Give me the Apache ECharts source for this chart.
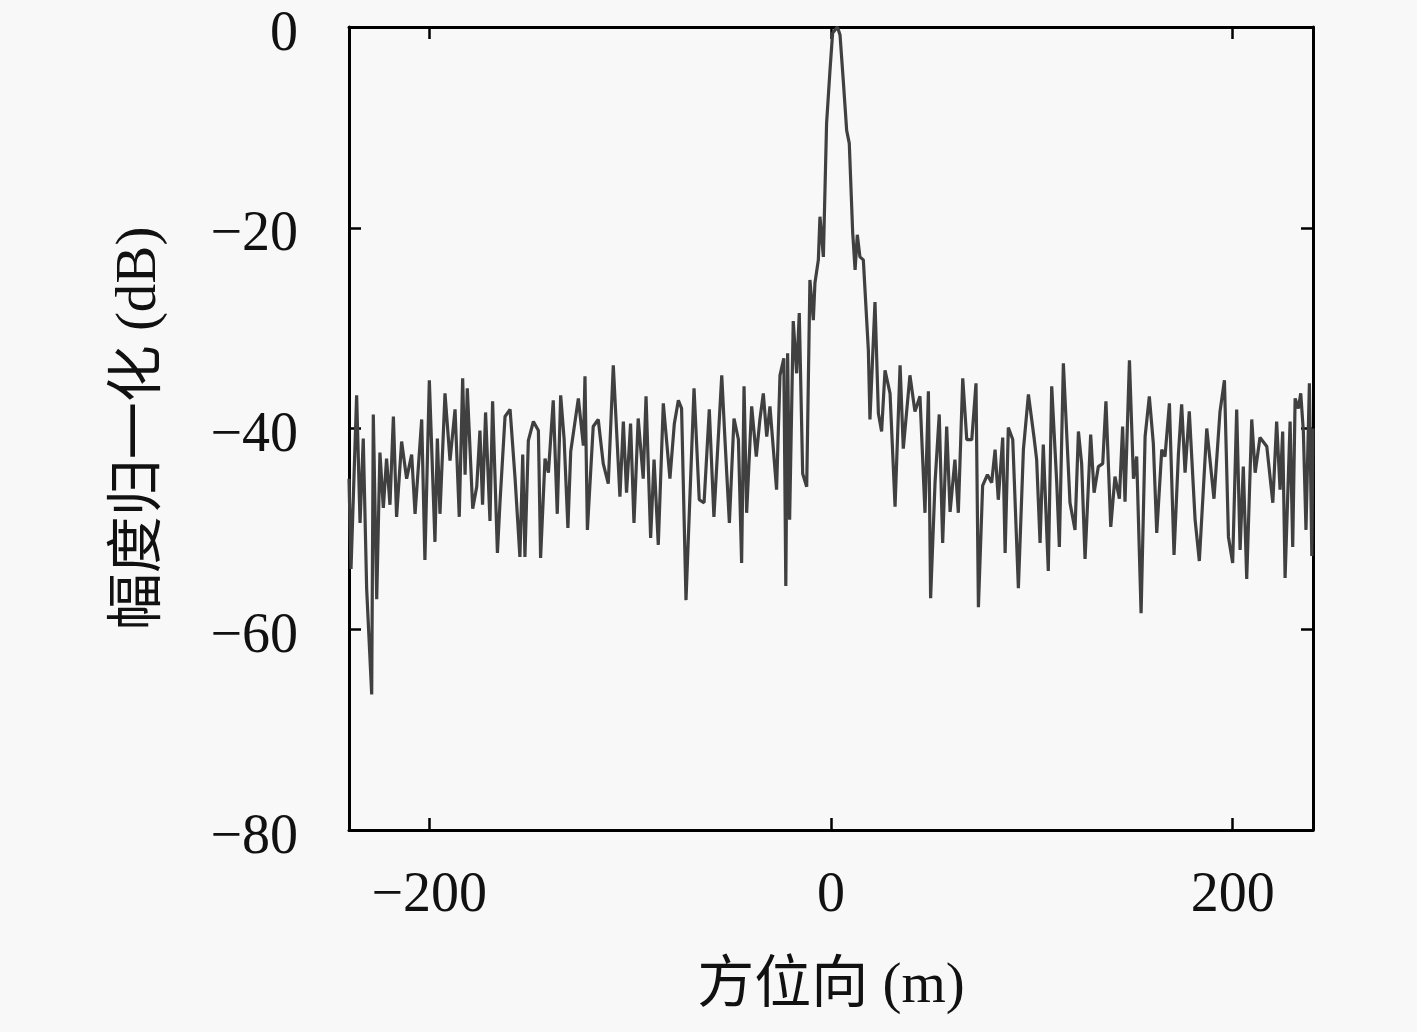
<!DOCTYPE html>
<html>
<head>
<meta charset="utf-8">
<script src="https://cdn.jsdelivr.net/npm/echarts@6/dist/echarts.min.js"></script>
<style>
html,body{margin:0;padding:0;background:#f8f8f8;}
#c{width:1417px;height:1032px;}
</style>
</head>
<body>
<div id="c"></div>
<script>
// Azimuth position (m)
const azimuth = [
-240,-239,-236.2,-234.5,-232.9,-231.2,-228.7,-227.9,-226.2,-224.6,-222.9,-221.3,-219.6,-217.9,-216.3,-213.8,-211.3,-208.8,-207.1,-203.8,
-202.2,-200,-197.2,-196,-194.7,-192.2,-189.7,-187.2,-185.1,-183.4,-182.2,-181.1,-178.4,-176.4,-174.8,-173.5,-172,-169.8,-168.5,-166.1,
-164.8,-162.3,-159.8,-157.3,-154.9,-153.5,-152.4,-150.7,-148.2,-145.7,-144.6,-142.4,-140.7,-138.3,-136.3,-134.6,-132.9,-131,-129.6,-125.8,
-123.3,-122.5,-121.3,-118.4,-115.9,-113.4,-110.9,-108.4,-105.1,-103.4,-101.8,-99.8,-98.1,-96,-93.5,-92.1,-89.8,-88.1,-86,-83.5,
-80.2,-78,-76,-74.4,-72.2,-68.2,-65.6,-63.2,-60.6,-58.3,-54.4,-52.8,-50.6,-48.3,-46.1,-44.5,-43.3,-42,-39.5,-37.2,
-35.4,-33.7,-32,-30.4,-27.1,-25.4,-23.5,-22.5,-21.6,-20.6,-18.8,-17.1,-15.8,-14.1,-12.1,-10.5,-8.8,-8,-6.3,-5.5,
-3.8,-2.2,-0.5,0.8,2,3.2,4.5,6.1,7.8,9.1,10.8,12,13.1,14.4,16.1,18.6,19.4,21.9,23.6,25.2,
26.9,29.4,31.9,34.4,36,39.3,41.8,44.3,46.8,48.5,49.6,51.8,53.9,55.6,57.6,59.3,61.7,63.4,65.6,67.6,
70.1,72.2,73.4,75.5,77.9,80,81.7,83.3,85.5,86.7,88.3,90.5,93.3,95.8,98.3,101.1,102.4,104.1,105.7,108.2,
109.9,112.4,113.7,115.7,119,121.5,123.2,124.8,126.5,129.3,131,133.1,135.3,136.9,139.3,141.4,143.6,145.2,146.4,148.6,
150.6,152.2,154.4,156.4,158.5,160.5,162.2,164.7,166.3,168.5,170.8,173,174.6,176.3,178.4,181.3,183.4,187.1,190.7,193.7,
195.9,197.9,200,202,203.7,205.3,207,209.5,211.2,213.6,217,220,221.9,223.6,224.9,226.1,228.6,229.9,231.1,232.7,
233.9,235.2,236.5,238.2,239.4,240
];
// Normalized amplitude (dB)
const amplitude = [
-45,-54,-36.7,-49.4,-41,-56,-66.5,-38.6,-57,-42.4,-47.9,-43,-47.6,-38.8,-48.8,-41.3,-45,-42.6,-48.5,-39.1,
-53.1,-35.2,-51.3,-41,-48.5,-36.5,-43.2,-38.1,-48.8,-35,-44.6,-36,-48,-45.8,-40.2,-47.6,-38.4,-49.2,-37.3,-52.4,
-47.3,-38.8,-38.1,-45,-52.8,-42.6,-52.8,-41.2,-39.3,-40.2,-52.9,-43,-44.4,-37.2,-48.5,-36.7,-41,-49.9,-42.3,-37,
-41.7,-34.8,-50.1,-39.8,-39.1,-43.5,-45.5,-33.7,-46.8,-39.3,-46.4,-39.5,-49.4,-39,-45,-36.8,-50.9,-43.1,-51.6,-37.5,
-45,-39.5,-37.2,-38,-57.1,-36,-47.1,-47.4,-38.1,-48.8,-34.7,-41.1,-49.4,-39,-41.1,-53.4,-35.8,-48.4,-37.8,-42.8,
-39.1,-36.5,-40.8,-37.8,-46.1,-34.7,-33,-55.7,-32.5,-49.1,-29.3,-34.5,-28.5,-44.5,-45.8,-25.2,-29.2,-25.5,-23.2,-18.9,
-22.9,-9.6,-4.3,-0.6,-0.3,0,-0.8,-5.3,-10.3,-11.6,-20.5,-24.2,-20.7,-22.9,-23.2,-32.2,-39.1,-27.4,-38.5,-40.3,
-34.2,-36.5,-47.8,-33.7,-42,-34.7,-38.3,-36.8,-48.4,-36.3,-56.9,-45.4,-38.6,-51.4,-39.8,-48.3,-43.1,-48.4,-35,-41.1,
-41.1,-35.5,-57.8,-45.7,-44.6,-45.4,-42.1,-47.1,-40.9,-52.4,-39.9,-41.1,-55.9,-42.1,-36.6,-40.9,-43.1,-51.4,-41.6,-54.2,
-35.8,-45.4,-51.8,-33.5,-47.4,-50.1,-40.3,-43.5,-53,-40.6,-46.4,-43.8,-43.5,-37.3,-49.8,-44.8,-47,-39.8,-47.3,-33.2,
-45,-42.8,-58.4,-40.8,-36.8,-41.5,-50.4,-42.1,-42.8,-37.5,-52.6,-42.5,-37.6,-44.4,-38.3,-49.1,-53.2,-40,-47,-38.3,
-35.2,-50.8,-53.4,-38.1,-52.1,-43.8,-55,-39.1,-44.4,-40.9,-41.8,-47.4,-39.3,-46.1,-40.3,-54.9,-39.3,-51.8,-37,-38,
-36.5,-40.3,-50.1,-35.5,-52.7,-40
];
const xTicks = [-200, 0, 200];
const yTicks = [0, -20, -40, -60, -80];
const xName = '方位向 (m)';
const yName = '幅度归一化 (dB)';

const chart = echarts.init(document.getElementById('c'));
const fontFam = '"Liberation Serif","Noto Sans CJK SC",serif';
const lineCol = '#000';
const tickStyle = {show:true, inside:true, length:12, lineStyle:{color:lineCol, width:2.5}};
const axisLine = {show:true, onZero:false, lineStyle:{color:lineCol, width:3}};
const fmt = v => v < 0 ? '\u2212' + Math.abs(v) : String(v);
chart.setOption({
  backgroundColor:'#f8f8f8',
  animation:false,
  grid:{left:349, right:104, top:27, bottom:202},
  xAxis:[{
    type:'value', min:-240, max:240, position:'bottom',
    name:xName, nameLocation:'middle', nameGap:129,
    nameTextStyle:{fontFamily:fontFam, fontSize:57, color:'#111'},
    axisLine:axisLine,
    axisTick:Object.assign({}, tickStyle, {customValues:xTicks}),
    axisLabel:{customValues:xTicks, fontFamily:fontFam, fontSize:56, color:'#111', margin:38, formatter:fmt},
    splitLine:{show:false}
  },{
    type:'value', min:-240, max:240, position:'top',
    axisLine:axisLine,
    axisTick:Object.assign({}, tickStyle, {customValues:xTicks}),
    axisLabel:{show:false}, splitLine:{show:false}
  }],
  yAxis:[{
    type:'value', min:-80, max:0, interval:20, position:'left',
    name:yName, nameLocation:'middle', nameGap:180, nameRotate:90,
    nameTextStyle:{fontFamily:fontFam, fontSize:57, color:'#111'},
    axisLine:axisLine,
    axisTick:tickStyle,
    axisLabel:{customValues:yTicks, fontFamily:fontFam, fontSize:56, color:'#111', margin:51,
      formatter:v => '{a|' + fmt(v) + '}',
      rich:{a:{fontFamily:fontFam, fontSize:56, color:'#111', padding:[16,0,0,0]}}},
    splitLine:{show:false}
  },{
    type:'value', min:-80, max:0, interval:20, position:'right',
    axisLine:axisLine, axisTick:tickStyle,
    axisLabel:{show:false}, splitLine:{show:false}
  }],
  series:[{
    type:'line', xAxisIndex:0, yAxisIndex:0,
    data:azimuth.map((x,i)=>[x, amplitude[i]]),
    showSymbol:false, symbol:'none', clip:true,
    lineStyle:{color:'#404040', width:3.2},
    itemStyle:{color:'#404040'}
  }]
});
</script>
</body>
</html>
